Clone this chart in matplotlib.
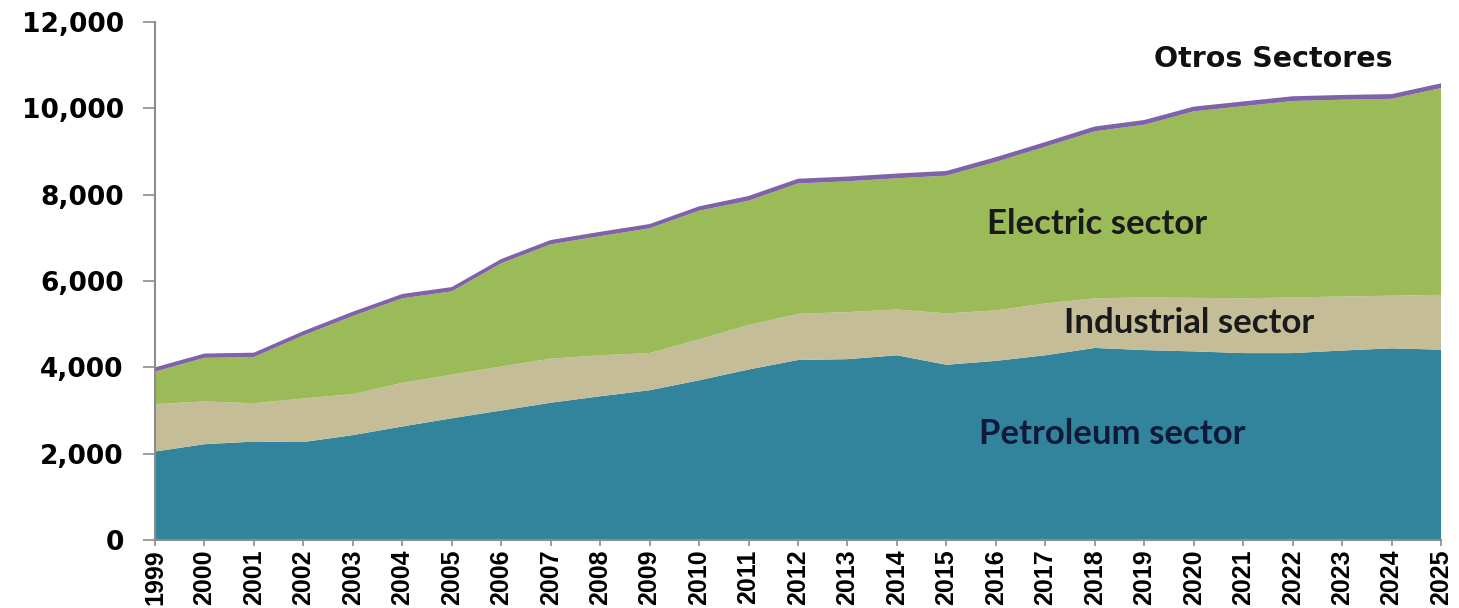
import matplotlib
matplotlib.use("Agg")
import matplotlib.pyplot as plt
from matplotlib.ticker import FuncFormatter

# Demand by sector, 1999-2025 (stacked)
years = list(range(1999, 2026))
petroleum = [2050, 2220, 2280, 2270, 2430, 2630, 2820, 3000, 3180, 3330, 3470, 3700, 3950,
             4170, 4190, 4280, 4060, 4150, 4280, 4450, 4400, 4370, 4330, 4330, 4390, 4440, 4410]
industrial = [1100, 990, 890, 1010, 950, 1010, 1010, 1020, 1020, 950, 860, 950, 1030,
              1070, 1090, 1060, 1190, 1170, 1200, 1150, 1220, 1240, 1270, 1290, 1250, 1220, 1270]
electric = [750, 1010, 1070, 1460, 1810, 1960, 1930, 2390, 2650, 2760, 2890, 2980, 2880,
            3020, 3030, 3040, 3190, 3440, 3630, 3870, 4000, 4320, 4450, 4550, 4560, 4560, 4790]
otros = [100, 100, 100, 100, 100, 100, 100, 100, 100, 100, 100, 100, 110,
         110, 110, 110, 110, 110, 110, 110, 110, 110, 110, 110, 110, 110, 110]

colors = ["#31849b", "#c4bd97", "#9bbb59", "#7f62a8"]

fig = plt.figure(figsize=(14.59, 6.08), dpi=100)
ax = fig.add_axes([0.1062, 0.1118, 0.8815, 0.852])

ax.stackplot(years, petroleum, industrial, electric, otros, colors=colors, linewidth=0)

ax.set_xlim(1999, 2025)
ax.set_ylim(0, 12000)
ax.set_yticks(range(0, 12001, 2000))
ax.yaxis.set_major_formatter(FuncFormatter(lambda v, p: f"{int(v):,}"))
ax.set_xticks(years)
ax.set_xticklabels([str(y) for y in years], rotation=90,
                   family="Liberation Sans", fontweight="bold", fontsize=18)
for lab in ax.get_yticklabels():
    lab.set_family("DejaVu Sans")
    lab.set_fontweight("bold")
    lab.set_fontsize(19)

for s in ["top", "right"]:
    ax.spines[s].set_visible(False)
for s in ["left", "bottom"]:
    ax.spines[s].set_color("#8c8c8c")
    ax.spines[s].set_linewidth(1.5)
ax.tick_params(axis="y", direction="out", length=8.5, width=1.2, color="#8c8c8c", pad=14)
ax.tick_params(axis="x", direction="out", length=4, width=1.2, color="#8c8c8c", pad=3)

# sector labels
ax.text(2021.6, 11150, "Otros Sectores", ha="center", va="center",
        family="DejaVu Sans", fontweight="bold", fontsize=20.5, color="#111111")
ax.text(2018.05, 7320, "Electric sector", ha="center", va="center",
        family="Lato", fontweight="bold", fontsize=25, color="#1a1a1a")
ax.text(2019.9, 5030, "Industrial sector", ha="center", va="center",
        family="Lato", fontweight="bold", fontsize=25, color="#1a1a1a")
ax.text(2018.35, 2460, "Petroleum sector", ha="center", va="center",
        family="Lato", fontweight="bold", fontsize=25, color="#0f1a3a")

fig.savefig("out.png", dpi=100)
